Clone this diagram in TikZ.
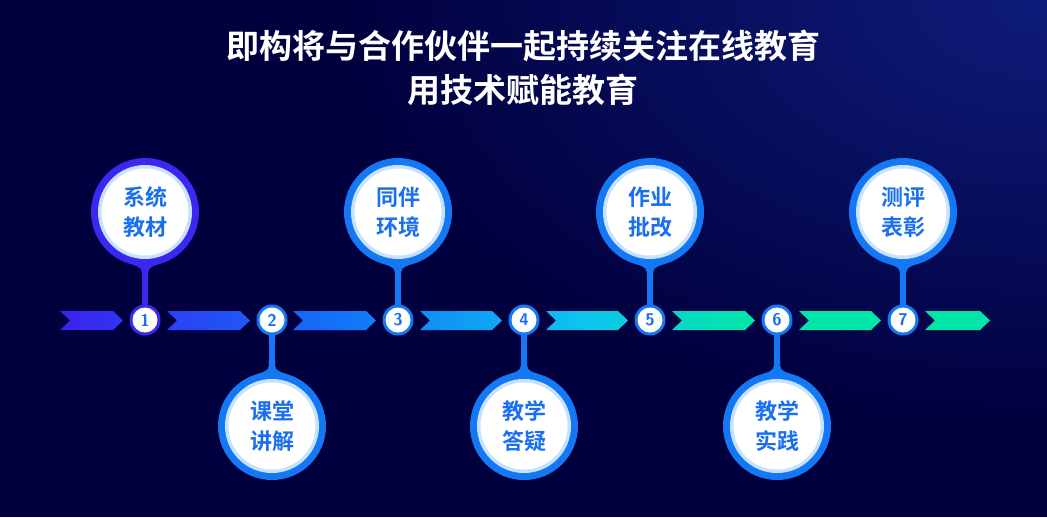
\documentclass[tikz,border=0pt]{standalone}
\usepackage{fontspec}
\newfontfamily\cjk{Noto Sans CJK SC Bold}
\usetikzlibrary{calc}
\definecolor{bgA}{HTML}{01003F}
\definecolor{bgB}{HTML}{0E1C7A}
\definecolor{cA}{HTML}{3A22F0}
\definecolor{cB}{HTML}{1272F8}
\definecolor{cC}{HTML}{0DC4F0}
\definecolor{cD}{HTML}{00E6A8}
\definecolor{ringP}{HTML}{3B28F0}
\definecolor{ringB}{HTML}{1478F5}
\definecolor{pale}{HTML}{C6E2FF}
\definecolor{txtB}{HTML}{1A6FF0}
\pgfdeclarehorizontalshading{chev}{100bp}{color(0bp)=(cA); color(25bp)=(cA); color(40bp)=(cB); color(53bp)=(cC); color(62bp)=(cD); color(75bp)=(cD); color(100bp)=(cD)}
\tikzset{
  big/.style={circle,minimum size=108pt,inner sep=0pt,fill=#1},
  small/.style={circle,minimum size=31pt,inner sep=0pt,fill=#1},
  lbl/.style={font=\cjk\fontsize{22}{30}\selectfont,text=txtB,align=center},
  num/.style={font=\sffamily\bfseries\fontsize{17}{17}\selectfont,text=txtB}
}
\begin{document}
\begin{tikzpicture}[x=1pt,y=-1pt]
\fill[bgA] (0,0) rectangle (1047,517);
\begin{scope}
\clip (0,0) rectangle (1047,517);
\shade[inner color=bgB,outer color=bgA] (1047,0) ellipse (700 and 420);
\end{scope}
\useasboundingbox (0,0) rectangle (1047,517);
\node[font=\cjk\fontsize{33}{44}\selectfont,text=white,align=center] (title) at (523,68) {即构将与合作伙伴一起持续关注在线教育\\用技术赋能教育};
% chevrons
\begin{scope}
\clip
 \foreach \a/\b in {60/123,167/250,293/376,420/502,546/628,672/755,799/881,925/990}{
   (\a,311) -- (\b-10,311) -- (\b,320.5) -- (\b-10,330) -- (\a,330) -- (\a+10,320.5) -- cycle };
\shade[shading=chev] (60,305) rectangle (990,336);
\end{scope}
\foreach \i/\x/\t/\c in {1/145/系统\\教材/ringP,2/272/课堂\\讲解/ringB,3/398/同伴\\环境/ringB,4/524/教学\\答疑/ringB,5/650/作业\\批改/ringB,6/777/教学\\实践/ringB,7/903/测评\\表彰/ringB}{
  \pgfmathsetmacro{\yc}{mod(\i,2)==1 ? 212 : 426}
  \pgfmathsetmacro{\s}{mod(\i,2)==1 ? 1 : -1}
  \node[small=\c] (s\i) at (\x,320) {};
  \node[big=\c] (b\i) at (\x,\yc) {};
  \fill[\c] ($(b\i.center)+(-3,0)$) -- ($(s\i.center)+(-3,0)$) -- ($(s\i.center)+(3,0)$) -- ($(b\i.center)+(3,0)$) -- cycle;
  \fill[\c] ($(b\i.center)+(-14,\s*52)$) .. controls ($(b\i.center)+(-3,\s*56)$) .. ($(b\i.center)+(-3,\s*66)$) -- ($(b\i.center)+(3,\s*66)$) .. controls ($(b\i.center)+(3,\s*56)$) .. ($(b\i.center)+(14,\s*52)$) -- cycle;
  \fill[\c] ($(s\i.center)+(-10,-\s*10)$) .. controls ($(s\i.center)+(-3,-\s*13)$) .. ($(s\i.center)+(-3,-\s*20)$) -- ($(s\i.center)+(3,-\s*20)$) .. controls ($(s\i.center)+(3,-\s*13)$) .. ($(s\i.center)+(10,-\s*10)$) -- cycle;
  \fill[pale] (b\i.center) circle (47);
  \fill[white] (b\i.center) circle (43.5);
  \fill[white] (s\i.center) circle (12.5);
  \node[num] at (s\i.center) {\i};
  \node[lbl] at (b\i.center) {\t};
}
\end{tikzpicture}
\end{document}
